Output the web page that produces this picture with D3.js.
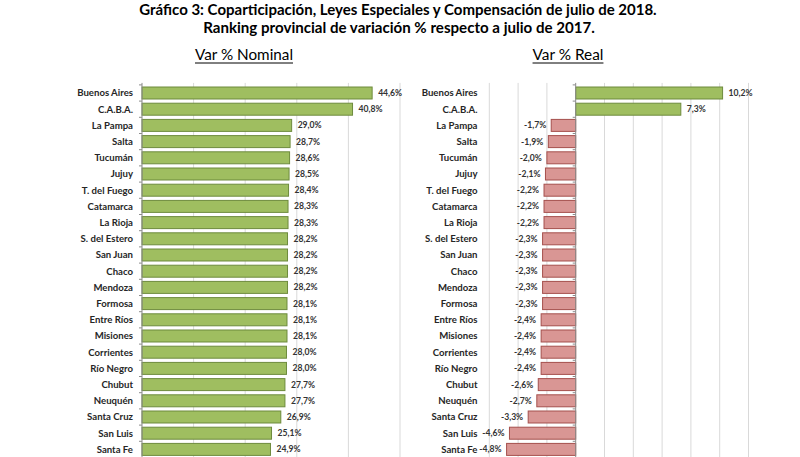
<!DOCTYPE html>
<html><head><meta charset="utf-8">
<script src="https://cdn.jsdelivr.net/npm/d3@7"></script>
<style>body{margin:0;background:#fff}svg{display:block}</style>
</head><body>
<svg id="c" width="800" height="457"></svg>
<script>
const provinces = ["Buenos Aires","C.A.B.A.","La Pampa","Salta","Tucumán","Jujuy","T. del Fuego","Catamarca","La Rioja","S. del Estero","San Juan","Chaco","Mendoza","Formosa","Entre Ríos","Misiones","Corrientes","Río Negro","Chubut","Neuquén","Santa Cruz","San Luis","Santa Fe"];
const nominal = [44.6,40.8,29.0,28.7,28.6,28.5,28.4,28.3,28.3,28.2,28.2,28.2,28.2,28.1,28.1,28.1,28.0,28.0,27.7,27.7,26.9,25.1,24.9];
const real = [10.2,7.3,-1.7,-1.9,-2.0,-2.1,-2.2,-2.2,-2.2,-2.3,-2.3,-2.3,-2.3,-2.3,-2.4,-2.4,-2.4,-2.4,-2.6,-2.7,-3.3,-4.6,-4.8];
const nominalTicks = [10,20,30,40,50];
const realTicks = [-6,-4,-2,2,4,6,8,10,12];
const titleLines = ["Gráfico 3: Coparticipación, Leyes Especiales y Compensación de julio de 2018.","Ranking provincial de variación % respecto a julio de 2017."];
const panelTitles = ["Var % Nominal","Var % Real"];

const svg = d3.select("#c");
const FONT = "Lato, 'Open Sans', sans-serif";
const loc = d3.formatLocale({decimal:",",thousands:".",grouping:[3],currency:["$",""],minus:"-"});
const fmt = v => loc.format(".1f")(v) + "%";

function fit(sel, target){
  const w = sel.node().getComputedTextLength();
  const fs = parseFloat(sel.attr("font-size"));
  sel.attr("font-size", fs*target/w);
}

// Titles
const t1 = svg.append("text").attr("x",398).attr("y",14.5).attr("text-anchor","middle")
  .attr("font-family",FONT).attr("font-weight","bold").attr("font-size",15).attr("fill","#000").text(titleLines[0]);
fit(t1,518);
const t2 = svg.append("text").attr("x",399).attr("y",32.5).attr("text-anchor","middle")
  .attr("font-family",FONT).attr("font-weight","bold").attr("font-size",15).attr("fill","#000").text(titleLines[1]);
fit(t2,392);

const y = d3.scaleBand().domain(provinces).range([84.9, 84.9+23*16.2]).paddingInner(0.26).paddingOuter(0.13);

function panel(cfg){
  const g = svg.append("g");
  const x = cfg.x;
  // subtitle
  const st = g.append("text").attr("x",cfg.titleX).attr("y",60).attr("text-anchor","middle")
    .attr("font-family",FONT).attr("font-size",15).attr("fill","#000").text(cfg.title);
  fit(st,cfg.titleW);
  const bb = st.node().getBBox();
  g.append("line").attr("x1",bb.x).attr("x2",bb.x+bb.width).attr("y1",63).attr("y2",63)
    .attr("stroke","#000").attr("stroke-width",1);
  // grid
  g.selectAll(".grid").data(cfg.ticks).join("line")
    .attr("x1",d=>x(d)).attr("x2",d=>x(d)).attr("y1",y.range()[0]-2).attr("y2",460)
    .attr("stroke","#d9d9d9").attr("stroke-width",1);
  // bars
  g.selectAll(".bar").data(cfg.values).join("rect")
    .attr("x",d=>Math.min(x(0),x(d))).attr("width",d=>Math.abs(x(d)-x(0)))
    .attr("y",(d,i)=>y(provinces[i])).attr("height",y.bandwidth())
    .attr("fill",d=>d>=0?"#9fbe60":"#d99694")
    .attr("stroke",d=>d>=0?"#6e8b3d":"#a5504d").attr("stroke-width",1);
  // axis line + ticks
  const x0 = x(0);
  g.append("line").attr("x1",x0).attr("x2",x0).attr("y1",y.range()[0]-2).attr("y2",460)
    .attr("stroke","#8c8c8c").attr("stroke-width",1);
  const bounds = provinces.map(p=>y(p)-y.step()*y.paddingInner()/2);
  g.selectAll(".tk").data(bounds).join("line")
    .attr("x1",x0-3).attr("x2",x0).attr("y1",d=>d).attr("y2",d=>d)
    .attr("stroke","#8c8c8c").attr("stroke-width",1);
  // category labels
  g.selectAll(".cat").data(provinces).join("text")
    .attr("x",cfg.labelX).attr("y",d=>y(d)+y.bandwidth()/2).attr("dy","0.35em")
    .attr("text-anchor","end").attr("font-family",FONT).attr("font-weight","bold")
    .attr("font-size",9.6).attr("fill","#262626").text(d=>d);
  // value labels
  g.selectAll(".val").data(cfg.values).join("text")
    .attr("x",d=>d>=0?x(d)+6:x(d)-5).attr("y",(d,i)=>y(provinces[i])+y.bandwidth()/2).attr("dy","0.35em")
    .attr("text-anchor",d=>d>=0?"start":"end").attr("font-family",FONT).attr("font-weight","bold")
    .attr("font-size",8.6).attr("fill","#333").text(d=>fmt(d));
}

panel({x:d3.scaleLinear().domain([0,50]).range([142,400]), values:nominal, ticks:nominalTicks,
  title:panelTitles[0], titleX:244, titleW:98, labelX:133});
panel({x:d3.scaleLinear().domain([-6,12]).range([489.3,748.5]), values:real, ticks:realTicks,
  title:panelTitles[1], titleX:568, titleW:71, labelX:477.5});
</script>
</body></html>
